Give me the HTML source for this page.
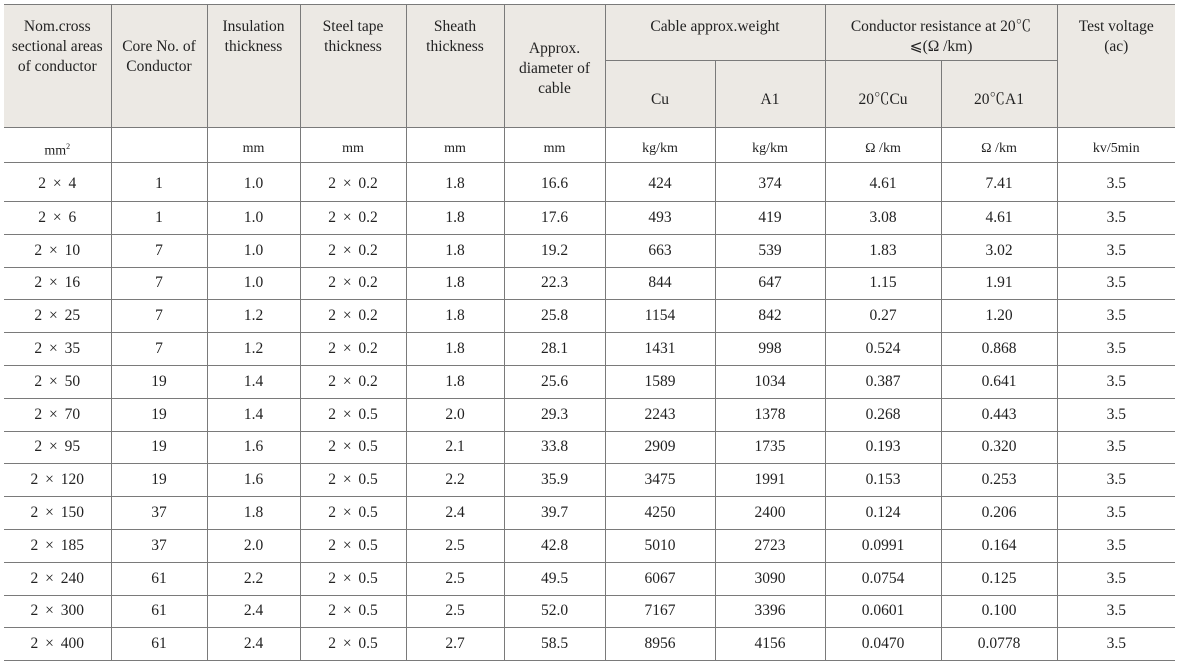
<!DOCTYPE html>
<html><head><meta charset="utf-8"><style>
body{margin:0;background:#fff;width:1180px;height:664px;overflow:hidden}
table{position:absolute;left:4px;top:4px;border-collapse:collapse;font-family:"Liberation Serif","Noto Serif CJK SC",serif;font-size:15.5px;color:#222;table-layout:fixed}
td{border:1px solid #7a7a7a;text-align:center;padding:0;line-height:20px}
tr td:first-child{border-left:none}
tr td:last-child{border-right:none}
.h td{background:#ece9e4;vertical-align:top;padding-top:12px}
.h td.m{vertical-align:middle;padding-top:12px}
.u td{height:35px;font-size:14px;padding-top:8px;box-sizing:border-box}
.d td{height:31.8px}
.d.f td{height:35px;padding-top:3px}
.x{word-spacing:3px}
</style></head><body>
<table>
<colgroup><col style="width:107px"><col style="width:96px"><col style="width:93px"><col style="width:106px"><col style="width:98px"><col style="width:101px"><col style="width:110px"><col style="width:110px"><col style="width:116px"><col style="width:116px"><col style="width:118px"></colgroup>
<tr class="h" style="height:56px"><td rowspan="2">Nom.cross<br>sectional areas<br>of conductor</td><td rowspan="2" style="padding-top:32px">Core No. of<br>Conductor</td><td rowspan="2">Insulation<br>thickness</td><td rowspan="2">Steel tape<br>thickness</td><td rowspan="2">Sheath<br>thickness</td><td rowspan="2" style="padding-top:34px">Approx.<br>diameter of<br>cable</td><td colspan="2">Cable approx.weight</td><td colspan="2">Conductor resistance at 20℃<br>⩽(Ω /km)</td><td rowspan="2">Test voltage<br>(ac)</td></tr>
<tr class="h" style="height:67px"><td class="m">Cu</td><td class="m">A1</td><td class="m">20℃Cu</td><td class="m">20℃A1</td></tr>
<tr class="u"><td>mm<sup style="font-size:8px">2</sup></td><td></td><td>mm</td><td>mm</td><td>mm</td><td>mm</td><td>kg/km</td><td>kg/km</td><td>Ω /km</td><td>Ω /km</td><td>kv/5min</td></tr>
<tr class="d f"><td class="x">2 × 4</td><td>1</td><td>1.0</td><td class="x">2 × 0.2</td><td>1.8</td><td>16.6</td><td>424</td><td>374</td><td>4.61</td><td>7.41</td><td>3.5</td></tr>
<tr class="d"><td class="x">2 × 6</td><td>1</td><td>1.0</td><td class="x">2 × 0.2</td><td>1.8</td><td>17.6</td><td>493</td><td>419</td><td>3.08</td><td>4.61</td><td>3.5</td></tr>
<tr class="d"><td class="x">2 × 10</td><td>7</td><td>1.0</td><td class="x">2 × 0.2</td><td>1.8</td><td>19.2</td><td>663</td><td>539</td><td>1.83</td><td>3.02</td><td>3.5</td></tr>
<tr class="d"><td class="x">2 × 16</td><td>7</td><td>1.0</td><td class="x">2 × 0.2</td><td>1.8</td><td>22.3</td><td>844</td><td>647</td><td>1.15</td><td>1.91</td><td>3.5</td></tr>
<tr class="d"><td class="x">2 × 25</td><td>7</td><td>1.2</td><td class="x">2 × 0.2</td><td>1.8</td><td>25.8</td><td>1154</td><td>842</td><td>0.27</td><td>1.20</td><td>3.5</td></tr>
<tr class="d"><td class="x">2 × 35</td><td>7</td><td>1.2</td><td class="x">2 × 0.2</td><td>1.8</td><td>28.1</td><td>1431</td><td>998</td><td>0.524</td><td>0.868</td><td>3.5</td></tr>
<tr class="d"><td class="x">2 × 50</td><td>19</td><td>1.4</td><td class="x">2 × 0.2</td><td>1.8</td><td>25.6</td><td>1589</td><td>1034</td><td>0.387</td><td>0.641</td><td>3.5</td></tr>
<tr class="d"><td class="x">2 × 70</td><td>19</td><td>1.4</td><td class="x">2 × 0.5</td><td>2.0</td><td>29.3</td><td>2243</td><td>1378</td><td>0.268</td><td>0.443</td><td>3.5</td></tr>
<tr class="d"><td class="x">2 × 95</td><td>19</td><td>1.6</td><td class="x">2 × 0.5</td><td>2.1</td><td>33.8</td><td>2909</td><td>1735</td><td>0.193</td><td>0.320</td><td>3.5</td></tr>
<tr class="d"><td class="x">2 × 120</td><td>19</td><td>1.6</td><td class="x">2 × 0.5</td><td>2.2</td><td>35.9</td><td>3475</td><td>1991</td><td>0.153</td><td>0.253</td><td>3.5</td></tr>
<tr class="d"><td class="x">2 × 150</td><td>37</td><td>1.8</td><td class="x">2 × 0.5</td><td>2.4</td><td>39.7</td><td>4250</td><td>2400</td><td>0.124</td><td>0.206</td><td>3.5</td></tr>
<tr class="d"><td class="x">2 × 185</td><td>37</td><td>2.0</td><td class="x">2 × 0.5</td><td>2.5</td><td>42.8</td><td>5010</td><td>2723</td><td>0.0991</td><td>0.164</td><td>3.5</td></tr>
<tr class="d"><td class="x">2 × 240</td><td>61</td><td>2.2</td><td class="x">2 × 0.5</td><td>2.5</td><td>49.5</td><td>6067</td><td>3090</td><td>0.0754</td><td>0.125</td><td>3.5</td></tr>
<tr class="d"><td class="x">2 × 300</td><td>61</td><td>2.4</td><td class="x">2 × 0.5</td><td>2.5</td><td>52.0</td><td>7167</td><td>3396</td><td>0.0601</td><td>0.100</td><td>3.5</td></tr>
<tr class="d"><td class="x">2 × 400</td><td>61</td><td>2.4</td><td class="x">2 × 0.5</td><td>2.7</td><td>58.5</td><td>8956</td><td>4156</td><td>0.0470</td><td>0.0778</td><td>3.5</td></tr>
</table>
</body></html>
